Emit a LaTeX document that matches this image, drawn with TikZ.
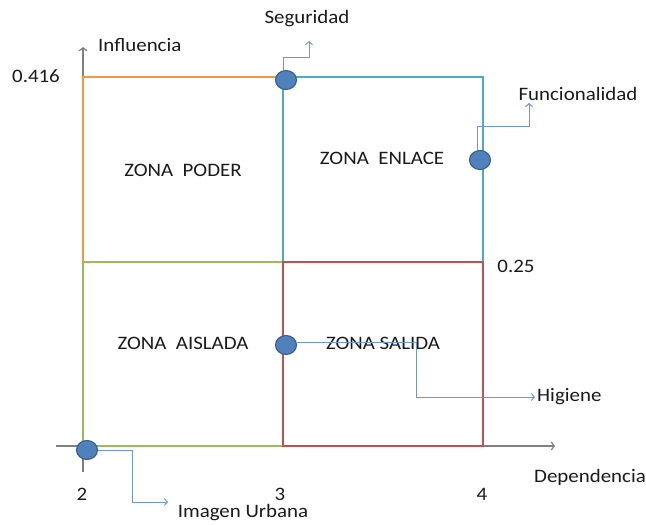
\documentclass[tikz,border=0pt]{standalone}
\usepackage{fontspec}
\setmainfont{Carlito}[FakeStretch=1.1]
\usetikzlibrary{arrows.meta,shapes.geometric,positioning}

\definecolor{naranja}{HTML}{F79646}
\definecolor{cian}{HTML}{4BACC6}
\definecolor{verde}{HTML}{9BBB59}
\definecolor{rojo}{HTML}{C0504D}
\definecolor{azul}{HTML}{4F81BD}
\definecolor{bordeazul}{HTML}{385D8A}
\definecolor{celeste}{RGB}{110,150,212}
\definecolor{gris}{HTML}{808080}
\definecolor{texto}{HTML}{1A1A1A}

\begin{document}
\begin{tikzpicture}[x=1pt,y=-1pt,
  zona/.style={line width=2pt},
  punto/.style={ellipse,draw=bordeazul,fill=azul,line width=1.1pt,minimum width=21pt,minimum height=19pt,inner sep=0pt},
  conector/.style={celeste,line width=1pt,-{Straight Barb[length=3pt,width=7pt]}},
  eje/.style={gris,line width=1.2pt},
  etiqueta/.style={font=\fontsize{19}{22}\selectfont,text=texto,inner sep=0pt}]
\useasboundingbox (0,0) rectangle (646,525);

% ejes
\coordinate (origen) at (83,446);
\coordinate (xfin) at (555,446);
\coordinate (yfin) at (83,47);
\draw[eje,-{Straight Barb[length=3pt,width=8pt]}] (56,446) -- (xfin);
\draw[eje,-{Straight Barb[length=3pt,width=8pt]}] (83,472) -- (yfin);

% zonas
\draw[zona,naranja] (83,77) rectangle (283,262);
\draw[zona,verde] (83,262) rectangle (283,446);
\draw[zona,cian] (283,77) rectangle (483,262);
\draw[zona,rojo] (283,262) rectangle (483,446);

\node[etiqueta] (poder) at (183,170) {ZONA~~PODER};
\node[etiqueta] (enlace) at (382,158) {ZONA~~ENLACE};
\node[etiqueta] (aislada) at (183,343) {ZONA~~AISLADA};
\node[etiqueta] (salida) at (383,343) {ZONA SALIDA};

% ejes: textos
\node[etiqueta,anchor=west] (influencia) at (98,45) {Influencia};
\node[etiqueta] (dependencia) at (590,477) {Dependencia};
\node[etiqueta] (ymax) at (36,76) {0.416};
\node[etiqueta] (ymed) at (516,266) {0.25};
\node[etiqueta] (x2) at (82,494) {2};
\node[etiqueta] (x3) at (280,494) {3};
\node[etiqueta] (x4) at (482,494) {4};

% variables
\node[punto] (seg) at (286,80) {};
\node[punto] (fun) at (480,160) {};
\node[punto] (hig) at (286,345) {};
\node[punto] (img) at (87,450) {};

\coordinate (segfin) at (309,41);
\coordinate (funfin) at (529,103);
\coordinate (higfin) at (535,397);
\coordinate (imgfin) at (168,502);

\draw[conector] ([xshift=-3pt]seg.north) |- (309,57) -- (segfin);
\draw[conector] ([xshift=-3pt]fun.north) |- (529,126) -- (funfin);
\draw[conector] ([yshift=3pt]hig.east) -| (416,397) -- (higfin);
\draw[conector] (img.east) -| (132,502) -- (imgfin);

\node[etiqueta] (seguridad) at (307,19) {Seguridad};
\node[etiqueta] (funcionalidad) at (578,94) {Funcionalidad};
\node[etiqueta,right=2pt of higfin] (higiene) {Higiene};
\node[etiqueta] (imagen) at (243,513) {Imagen Urbana};
\end{tikzpicture}
\end{document}
